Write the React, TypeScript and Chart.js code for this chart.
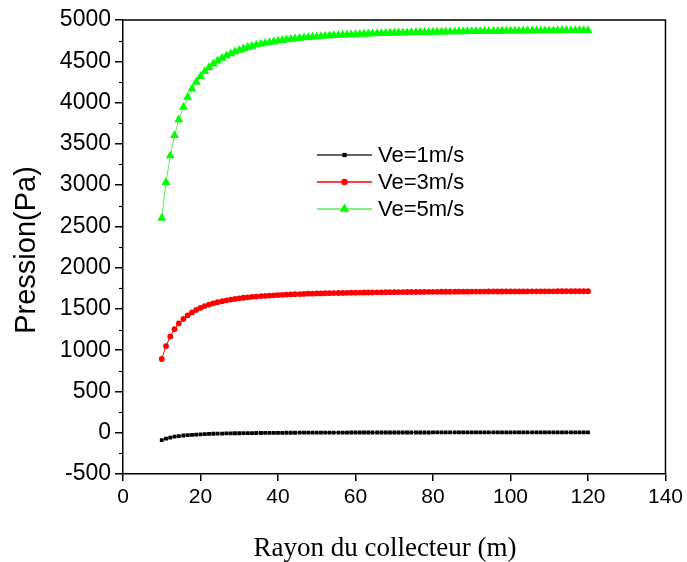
import React, { useEffect, useRef } from 'react';
import { Chart, registerables } from 'chart.js';

Chart.register(...registerables);

// Rayon du collecteur (m)
const radius = [
  10.0, 11.1, 12.2, 13.3, 14.4, 15.6, 16.7, 17.8, 18.9, 20.0,
  21.1, 22.2, 23.3, 24.4, 25.6, 26.7, 27.8, 28.9, 30.0, 31.1,
  32.2, 33.3, 34.4, 35.6, 36.7, 37.8, 38.9, 40.0, 41.1, 42.2,
  43.3, 44.4, 45.6, 46.7, 47.8, 48.9, 50.0, 51.1, 52.2, 53.3,
  54.4, 55.6, 56.7, 57.8, 58.9, 60.0, 61.1, 62.2, 63.3, 64.4,
  65.6, 66.7, 67.8, 68.9, 70.0, 71.1, 72.2, 73.3, 74.4, 75.6,
  76.7, 77.8, 78.9, 80.0, 81.1, 82.2, 83.3, 84.4, 85.6, 86.7,
  87.8, 88.9, 90.0, 91.1, 92.2, 93.3, 94.4, 95.6, 96.7, 97.8,
  98.9, 100.0, 101.1, 102.2, 103.3, 104.4, 105.6, 106.7, 107.8, 108.9,
  110.0, 111.1, 112.2, 113.3, 114.4, 115.6, 116.7, 117.8, 118.9, 120.0,
];

// Pression (Pa), Ve = 1 m/s
const ve1 = [
  -90, -72, -59, -48, -41, -34, -29, -25, -22, -19,
  -16, -14, -12, -11, -10, -8, -7, -6, -6, -5,
  -4, -4, -3, -3, -2, -2, -1, -1, -1, 0,
  0, 0, 1, 1, 1, 1, 1, 2, 2, 2,
  2, 2, 2, 2, 3, 3, 3, 3, 3, 3,
  3, 3, 3, 3, 3, 3, 3, 3, 3, 3,
  3, 3, 3, 4, 4, 4, 4, 4, 4, 4,
  4, 4, 4, 4, 4, 4, 4, 4, 4, 4,
  4, 4, 4, 4, 4, 4, 4, 4, 4, 4,
  4, 4, 4, 4, 4, 4, 4, 4, 4, 4,
];

// Pression (Pa), Ve = 3 m/s
const ve3 = [
  893, 1050, 1166, 1255, 1324, 1378, 1422, 1458, 1488, 1513,
  1534, 1553, 1568, 1582, 1593, 1604, 1613, 1621, 1628, 1635,
  1640, 1646, 1650, 1655, 1658, 1662, 1665, 1668, 1671, 1674,
  1676, 1678, 1680, 1682, 1684, 1685, 1687, 1688, 1690, 1691,
  1692, 1693, 1694, 1695, 1696, 1697, 1698, 1699, 1699, 1700,
  1701, 1701, 1702, 1703, 1703, 1704, 1704, 1705, 1705, 1706,
  1706, 1706, 1707, 1707, 1707, 1708, 1708, 1708, 1709, 1709,
  1709, 1709, 1710, 1710, 1710, 1710, 1711, 1711, 1711, 1711,
  1712, 1712, 1712, 1712, 1712, 1712, 1713, 1713, 1713, 1713,
  1713, 1713, 1714, 1714, 1714, 1714, 1714, 1714, 1714, 1714,
];

// Pression (Pa), Ve = 5 m/s
const ve5 = [
  2599, 3034, 3356, 3601, 3792, 3943, 4065, 4165, 4248, 4317,
  4376, 4426, 4469, 4506, 4539, 4568, 4593, 4616, 4635, 4653,
  4669, 4684, 4697, 4709, 4720, 4729, 4739, 4747, 4754, 4761,
  4768, 4774, 4780, 4785, 4790, 4794, 4798, 4802, 4806, 4809,
  4813, 4816, 4819, 4821, 4824, 4826, 4829, 4831, 4833, 4835,
  4837, 4838, 4840, 4842, 4843, 4845, 4846, 4847, 4849, 4850,
  4851, 4852, 4853, 4854, 4855, 4856, 4857, 4858, 4859, 4860,
  4860, 4861, 4862, 4863, 4863, 4864, 4864, 4865, 4865, 4866,
  4867, 4867, 4868, 4868, 4868, 4869, 4869, 4870, 4870, 4871,
  4871, 4871, 4872, 4872, 4873, 4873, 4873, 4874, 4874, 4874,
];

const seriesLabels = ['Ve=1m/s', 'Ve=3m/s', 'Ve=5m/s'];
const xTitle = 'Rayon du collecteur (m)';
const yTitle = 'Pression(Pa)';
const yMinorTicks = [-250, 250, 750, 1250, 1750, 2250, 2750, 3250, 3750, 4250, 4750];

const SANS = '"Liberation Sans", Arial, sans-serif';
const SERIF = '"Liberation Serif", "Times New Roman", serif';

const markerStyles = ['rect', 'circle', 'triangle'];
const markerColors = ['#000000', '#ff0000', '#00ff00'];
const lineColors = ['#333333', '#ff0000', '#55ee55'];
const markerRadius = [2.7, 2.9, 5.2];

function drawMarker(ctx: CanvasRenderingContext2D, style: string, x: number, y: number, r: number, color: string) {
  ctx.fillStyle = color;
  ctx.beginPath();
  if (style === 'rect') {
    const s = r * Math.SQRT1_2;
    ctx.rect(x - s, y - s, 2 * s, 2 * s);
  } else if (style === 'circle') {
    ctx.arc(x, y, r, 0, Math.PI * 2);
  } else {
    ctx.moveTo(x, y - r);
    ctx.lineTo(x + r * Math.sin(Math.PI / 3), y + r * 0.5);
    ctx.lineTo(x - r * Math.sin(Math.PI / 3), y + r * 0.5);
    ctx.closePath();
  }
  ctx.fill();
}

const decoPlugin = {
  id: 'deco',
  afterDraw(chart: any) {
    const { ctx, chartArea: a, scales } = chart;
    ctx.save();
    // frame
    ctx.strokeStyle = '#000';
    ctx.lineWidth = 1.5;
    ctx.beginPath();
    ctx.moveTo(a.left, a.top);
    ctx.lineTo(a.right, a.top);
    ctx.lineTo(a.right, a.bottom);
    ctx.stroke();
    // minor y ticks
    ctx.lineWidth = 1.2;
    for (const v of yMinorTicks) {
      const py = Math.round(scales.y.getPixelForValue(v)) + 0.5;
      ctx.beginPath();
      ctx.moveTo(a.left - 4, py);
      ctx.lineTo(a.left, py);
      ctx.stroke();
    }
    // legend
    const lx0 = 317, lx1 = 372, ly0 = 155, dy = 27;
    ctx.font = `22px ${SANS}`;
    ctx.textBaseline = 'middle';
    ctx.textAlign = 'left';
    seriesLabels.forEach((lab, i) => {
      const yy = ly0 + i * dy;
      ctx.strokeStyle = lineColors[i];
      ctx.lineWidth = 1.5;
      ctx.beginPath();
      ctx.moveTo(lx0, yy);
      ctx.lineTo(lx1, yy);
      ctx.stroke();
      drawMarker(ctx, markerStyles[i], (lx0 + lx1) / 2, yy, markerRadius[i] + 0.3, markerColors[i]);
      ctx.fillStyle = '#000';
      ctx.fillText(lab, 378, yy + 1);
    });
    // axis titles
    ctx.fillStyle = '#000';
    ctx.font = `27px ${SERIF}`;
    ctx.textAlign = 'center';
    ctx.textBaseline = 'middle';
    ctx.fillText(xTitle, 385, 549);
    ctx.save();
    ctx.translate(27, 250);
    ctx.rotate(-Math.PI / 2);
    ctx.font = `29px ${SANS}`;
    ctx.fillText(yTitle, 0, 0);
    ctx.restore();
    ctx.restore();
  },
};

export default function App() {
  const ref = useRef<HTMLCanvasElement | null>(null);

  useEffect(() => {
    if (!ref.current) return;
    const series = [ve1, ve3, ve5];
    const chart = new Chart(ref.current, {
      type: 'line',
      data: {
        datasets: series.map((vals, i) => ({
          label: seriesLabels[i],
          data: radius.map((r, k) => ({ x: r, y: vals[k] })),
          borderColor: lineColors[i],
          backgroundColor: markerColors[i],
          borderWidth: 1,
          pointStyle: markerStyles[i] as any,
          pointRadius: markerRadius[i],
          pointBorderWidth: 0,
          pointBackgroundColor: markerColors[i],
          pointBorderColor: markerColors[i],
          tension: 0,
          fill: false,
        })),
      },
      options: {
        responsive: false,
        animation: false,
        layout: { padding: { left: 8, right: 17, top: 20, bottom: 0 } },
        plugins: {
          legend: { display: false },
          tooltip: { enabled: false },
          title: { display: false },
        },
        scales: {
          x: {
            type: 'linear',
            min: 0,
            max: 140,
            ticks: {
              stepSize: 20,
              color: '#000',
              font: { family: SANS, size: 21 },
              padding: 4,
              maxRotation: 0,
              callback: (v: any) => String(v),
            },
            grid: {
              drawOnChartArea: false,
              drawTicks: true,
              tickLength: 7,
              color: '#000',
              lineWidth: 1.5,
            },
            border: { display: true, color: '#000', width: 1.5 },
            afterFit: (s: any) => {
              s.height = 88;
            },
          },
          y: {
            type: 'linear',
            min: -500,
            max: 5000,
            ticks: {
              stepSize: 500,
              color: '#000',
              font: { family: SANS, size: 23 },
              padding: 4,
              callback: (v: any) => String(v),
            },
            grid: {
              drawOnChartArea: false,
              drawTicks: true,
              tickLength: 8,
              color: '#000',
              lineWidth: 1.5,
            },
            border: { display: true, color: '#000', width: 1.5 },
            afterFit: (s: any) => {
              s.width = 115;
            },
          },
        },
      },
      plugins: [decoPlugin],
    });
    return () => chart.destroy();
  }, []);

  return (
    <div style={{ position: 'fixed', left: 0, top: 0, width: 687, height: 562, background: '#fff' }}>
      <canvas ref={ref} width={687} height={562} style={{ display: 'block' }} />
    </div>
  );
}
